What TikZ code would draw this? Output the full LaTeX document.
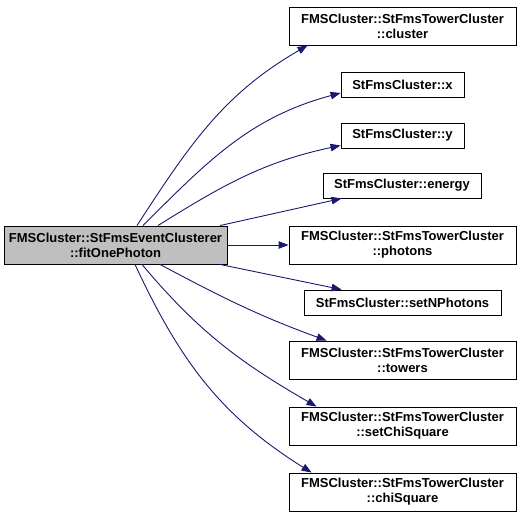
\documentclass[tikz,border=0pt]{standalone}
\usepackage{fontspec}
\setmainfont{Liberation Sans}
\usetikzlibrary{arrows.meta}
\definecolor{edgeblue}{HTML}{191970}
\definecolor{mainfill}{HTML}{BFBFBF}
\begin{document}
\begin{tikzpicture}[x=1pt,y=1pt,
  box/.style={draw=black, line width=0.9pt, fill=white, inner sep=0pt, align=center,
    font=\bfseries\fontsize{13}{15}\selectfont},
  call/.style={draw=edgeblue, line width=0.9pt, -{Triangle[length=10pt,width=7.5pt]}}]
\useasboundingbox (0,0) rectangle (521,519);
\node[box, fill=mainfill, minimum width=223pt, minimum height=38pt] (main) at (115.5,274) {FMSCluster::StFmsEventClusterer\\::fitOnePhoton};
\node[box, minimum width=227pt, minimum height=38pt] (cluster) at (402.5,493) {FMSCluster::StFmsTowerCluster\\::cluster};
\node[box, minimum width=123pt, minimum height=25pt] (x) at (402.5,434.5) {StFmsCluster::x};
\node[box, minimum width=123pt, minimum height=25pt] (y) at (402.5,383.5) {StFmsCluster::y};
\node[box, minimum width=158pt, minimum height=25pt] (energy) at (402,333.5) {StFmsCluster::energy};
\node[box, minimum width=227pt, minimum height=38pt] (photons) at (402.5,274) {FMSCluster::StFmsTowerCluster\\::photons};
\node[box, minimum width=197pt, minimum height=25pt] (setn) at (402.5,216.5) {StFmsCluster::setNPhotons};
\node[box, minimum width=227pt, minimum height=38pt] (towers) at (402.5,159) {FMSCluster::StFmsTowerCluster\\::towers};
\node[box, minimum width=227pt, minimum height=38pt] (setchi) at (402.5,93) {FMSCluster::StFmsTowerCluster\\::setChiSquare};
\node[box, minimum width=227pt, minimum height=38pt] (chi) at (402.5,27) {FMSCluster::StFmsTowerCluster\\::chiSquare};

\draw[call] ([xshift=21.5pt]main.north) to[out=57,in=210] ([xshift=19pt]cluster.south west);
\draw[call] ([xshift=27.5pt]main.north) to[out=45,in=195] ([yshift=-8.5pt]x.west);
\draw[call] ([xshift=42.5pt]main.north) to[out=32,in=192] ([yshift=-10pt]y.west);
\draw[call] ([xshift=104.5pt]main.north) -- ([xshift=19pt]energy.south west);
\draw[call] (main.east) -- (photons.west);
\draw[call] ([xshift=104.5pt]main.south) -- ([xshift=38pt]setn.north west);
\draw[call] ([xshift=44.5pt]main.south) to[out=-28,in=160] ([xshift=38pt]towers.north west);
\draw[call] ([xshift=26.5pt]main.south) to[out=-50,in=150] ([xshift=28pt]setchi.north west);
\draw[call] ([xshift=19.5pt]main.south) to[out=-65,in=148] ([xshift=23pt]chi.north west);
\end{tikzpicture}
\end{document}
